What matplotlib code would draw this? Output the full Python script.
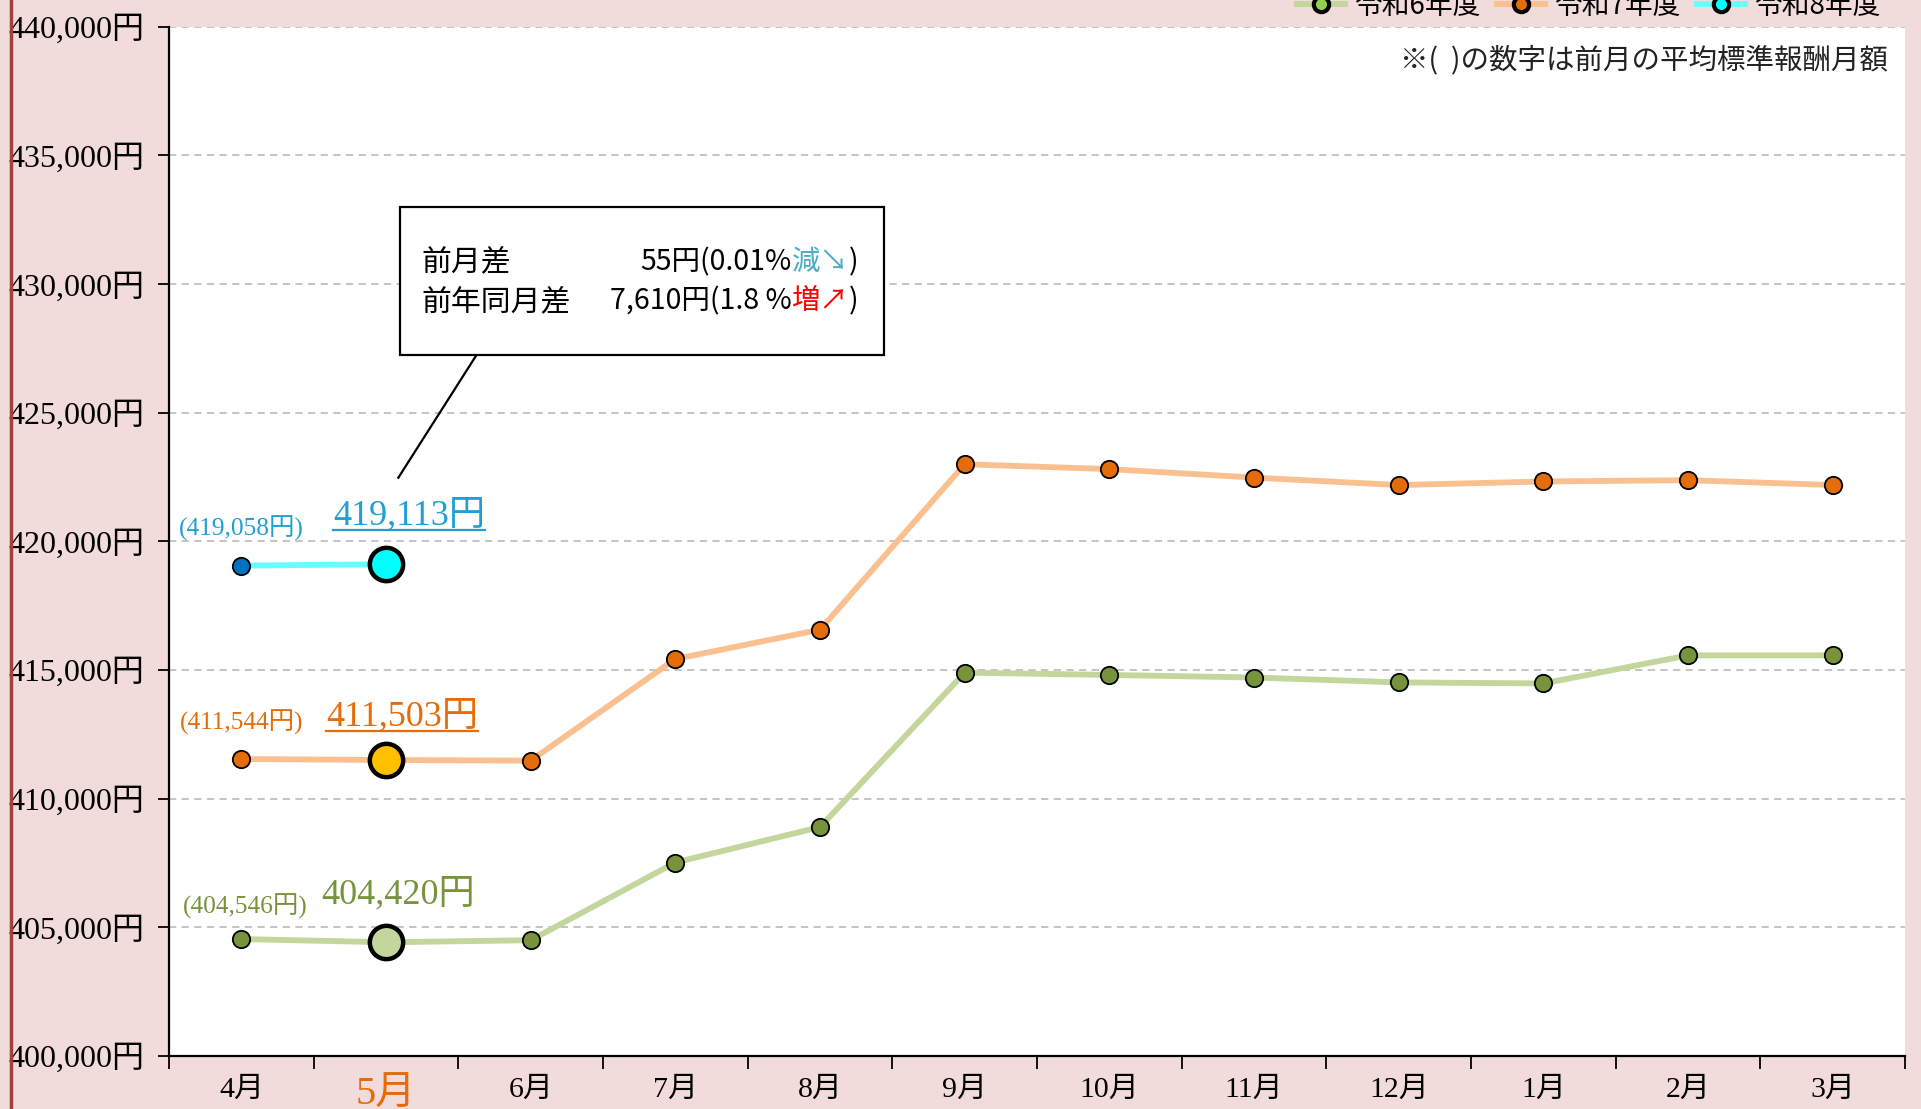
import numpy as np
import matplotlib
matplotlib.use('Agg')
import matplotlib.pyplot as plt
from matplotlib.lines import Line2D

# データ
months = ['4月', '5月', '6月', '7月', '8月', '9月', '10月', '11月', '12月', '1月', '2月', '3月']
r6 = [404546, 404420, 404500, 407520, 408900, 414900, 414810, 414710, 414520, 414480, 415570, 415570]
r7 = [411544, 411503, 411480, 415430, 416570, 423000, 422810, 422480, 422190, 422330, 422380, 422190]
r8 = [419058, 419113]
series_names = ['令和6年度', '令和7年度', '令和8年度']
yticks = np.arange(400000, 440001, 5000)
note = '※(  )の数字は前月の平均標準報酬月額'
box_rows = [('前月差', '55円(0.01%', '減↘', ')', '#4bacc6'),
            ('前年同月差', '7,610円(1.8 %', '増↗', ')', '#ff0000')]

SERIF = ['Liberation Serif', 'Noto Sans CJK JP']
SANS = ['Noto Sans CJK JP', 'DejaVu Sans']
plt.rcParams['font.family'] = SANS

BG = '#f2dcdb'
line_c = ['#c3d69b', '#fac090', '#66ffff']
mk_c = ['#77933c', '#e46c0a', '#0070c0']
big_c = ['#c3d69b', '#ffc000', '#00ffff']
leg_mk = ['#92d050', '#e46c0a', '#00ffff']
txt_c = ['#77933c', '#e46c0a', '#1f9fd3']

fig = plt.figure(figsize=(19.21, 11.09), dpi=100, facecolor=BG)
ax = fig.add_axes([0.088, 0.0478, 0.9037, 0.928])
ax.set_facecolor('white')

x = np.arange(len(months))
for vals, lc, mc, bc in zip([r6, r7, r8], line_c, mk_c, big_c):
    xs = x[:len(vals)]
    ax.plot(xs, vals, color=lc, lw=4.2, zorder=3)
    ax.plot(xs, vals, ls='none', marker='o', ms=12.5, mfc=mc, mec='black', mew=1.3, zorder=4)
    ax.plot(xs[1], vals[1], ls='none', marker='o', ms=24, mfc=bc, mec='black', mew=3.2, zorder=5)

ax.set_xlim(-0.5, 11.5)
ax.set_ylim(400000, 440000)
ax.set_yticks(yticks)
ax.set_yticklabels([f'{v:,}円' for v in yticks], family=SERIF, fontsize=23)
ax.set_xticks(x)
ax.set_xticklabels(months, family=SERIF, fontsize=21.5)
ax.set_xticks(np.arange(-0.5, 12, 1), minor=True)
ax.tick_params(axis='x', which='major', length=0, pad=15)
ax.tick_params(axis='x', which='minor', length=9, width=1.3, direction='out')
ax.tick_params(axis='y', length=8, width=1.3, direction='out', pad=10)
lab5 = ax.get_xticklabels()[1]
lab5.set_color('#e46c0a')
lab5.set_fontsize(29)
ax.grid(axis='y', color='#bfbfbf', ls=(0, (4, 3)), lw=1.3)
ax.set_axisbelow(True)
for s in ['top', 'right']:
    ax.spines[s].set_visible(False)
for s in ['left', 'bottom']:
    ax.spines[s].set_linewidth(1.6)

# 前月・当月ラベル
prev_pos = [(0.03, 405810), (0.0, 412952), (0.0, 420524)]
cur_pos = [(0.55, 406238), (0.585, 413190), (0.636, 421000)]
underline = [False, True, True]
cur_texts = []
for vals, c, pp, cp, ul in zip([r6, r7, r8], txt_c, prev_pos, cur_pos, underline):
    ax.text(pp[0], pp[1], f'({vals[0]:,}円)', color=c, ha='center', va='center',
            family=SERIF, fontsize=18.3, zorder=6)
    t = ax.text(cp[0], cp[1], f'{vals[1]:,}円', color=c, ha='left', va='center',
                family=SERIF, fontsize=26, zorder=6)
    cur_texts.append((t, ul, c))

# 吹き出し
ax.add_patch(plt.Rectangle((1.093, 427238), 3.347, 5762, facecolor='white',
                           edgecolor='black', lw=1.6, zorder=7))
ax.plot([1.619, 1.085], [427190, 422476], color='black', lw=1.6, zorder=7)
for (lab, a, b, c, col), yy in zip(box_rows, [430857, 429333]):
    ax.text(1.246, yy, lab, ha='left', va='center', fontsize=21.5, zorder=8)
    t3 = ax.text(4.263, yy, c, ha='right', va='center', fontsize=20.5, zorder=8)
    t2 = ax.annotate(b, xy=(0, 0.5), xycoords=t3, ha='right', va='center',
                     fontsize=20.5, color=col, zorder=8)
    ax.annotate(a, xy=(0, 0.5), xycoords=t2, ha='right', va='center',
                fontsize=20.5, zorder=8)

ax.text(0.99, 0.967, note, transform=ax.transAxes, ha='right', va='center',
        fontsize=20.5, color='#222222')

# 凡例
handles = [Line2D([], [], color=lc, lw=4.2, marker='o', ms=11, mfc=mc, mec='black', mew=3)
           for lc, mc in zip(line_c, leg_mk)]
fig.legend(handles, series_names, loc='center right', bbox_to_anchor=(0.992, 0.995),
           ncol=3, frameon=False, fontsize=20, handlelength=1.7, handletextpad=0.35,
           columnspacing=0.6)

# 左端の線
fig.add_artist(Line2D([0.0055, 0.0055], [0, 1], transform=fig.transFigure,
                      color='#a0413c', lw=2.5))

# 下線
fig.canvas.draw()
r = fig.canvas.get_renderer()
inv = ax.transData.inverted()
for t, ul, c in cur_texts:
    if not ul:
        continue
    bb = t.get_window_extent(r)
    (x0, y0), (x1, _) = inv.transform([(bb.x0, bb.y0 + 2), (bb.x1, bb.y0 + 2)])
    ax.plot([x0, x1], [y0, y0], color=c, lw=1.6, zorder=6)

fig.savefig('out.png', dpi=100, facecolor=BG)
